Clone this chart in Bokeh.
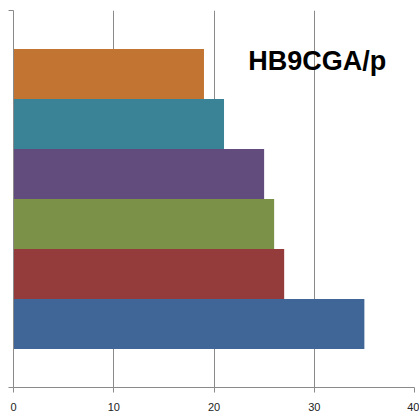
from bokeh.plotting import figure
from bokeh.models import Range1d, FixedTicker, Label, LinearAxis
from bokeh.embed import file_html
from bokeh.resources import INLINE

# data (bottom to top)
series = ["S1", "S2", "S3", "S4", "S5", "S6"]
values = [35, 27, 26, 25, 21, 19]
colors = ["#3F6696", "#943C3C", "#7A9147", "#624C7D", "#3A8296", "#C27533"]
x_ticks = [0, 10, 20, 30, 40]
title_text = "HB9CGA/p"

gap = 0.77
ytop = 2 * gap + len(values)
ypos = [gap + 0.5 + i for i in range(len(values))]

p = figure(width=419, height=415, output_backend="svg", toolbar_location=None,
           x_range=Range1d(0, 40), y_range=Range1d(0, ytop),
           x_axis_location=None, y_axis_location=None,
           min_border_left=13, min_border_right=5, min_border_top=10, min_border_bottom=28)
p.outline_line_color = None

p.hbar(y=ypos, left=0, right=values, height=1.0, fill_color=colors, line_color=None)

xa = LinearAxis(ticker=FixedTicker(ticks=x_ticks))
xa.axis_line_color = "#8A8A8A"
xa.major_tick_line_color = "#8A8A8A"
xa.major_tick_out = 5
xa.major_tick_in = 0
xa.minor_tick_line_color = None
xa.major_label_text_font = "Liberation Sans"
xa.major_label_text_font_size = "11px"
xa.major_label_text_color = "#222222"
xa.major_label_standoff = 10
p.add_layout(xa, "below")

ya = LinearAxis(ticker=FixedTicker(ticks=[], minor_ticks=[0, ytop]))
ya.axis_line_color = "#8A8A8A"
ya.major_tick_line_color = None
ya.minor_tick_line_color = "#8A8A8A"
ya.minor_tick_out = 5
ya.minor_tick_in = 0
p.add_layout(ya, "left")

p.xgrid.ticker = FixedTicker(ticks=x_ticks)
p.xgrid.grid_line_color = "#8A8A8A"
p.ygrid.grid_line_color = None

p.add_layout(Label(x=30.3, y=ytop - 1.0, text=title_text,
                   text_font="Liberation Sans", text_font_style="bold",
                   text_font_size="27px", text_align="center", text_baseline="middle",
                   text_color="#000000"))

open("out.html", "w").write(file_html(p, INLINE))
